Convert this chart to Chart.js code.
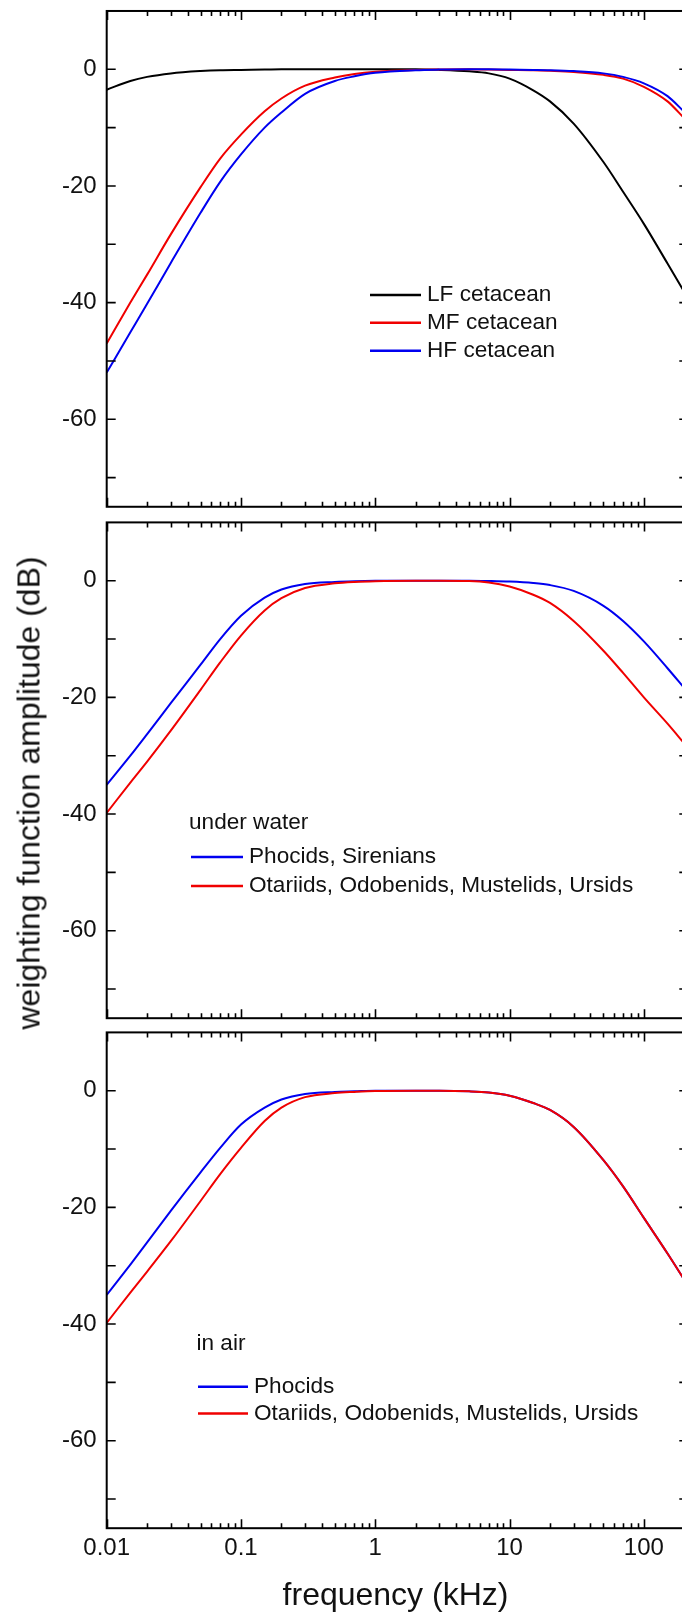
<!DOCTYPE html>
<html>
<head>
<meta charset="utf-8">
<script src="https://cdn.jsdelivr.net/npm/chart.js@4.4.1/dist/chart.umd.min.js"></script>
<style>
  html, body { margin: 0; padding: 0; background: #fff; overflow: hidden; }
  body { width: 682px; height: 1619px; position: relative; }
  canvas { position: absolute; left: 0; }
  #ytitle {
    position: absolute; left: 29px; top: 793px;
    transform: translate(-50%, -50%) rotate(-90deg);
    font: 32px "Liberation Sans", Arial, sans-serif; color: #111; white-space: nowrap;
  }
</style>
</head>
<body>
<canvas id="panelCet" width="700" height="514" style="top:0px"></canvas>
<canvas id="panelWater" width="700" height="511" style="top:514px"></canvas>
<canvas id="panelAir" width="700" height="594" style="top:1025px"></canvas>
<div id="ytitle">weighting function amplitude (dB)</div>
<script>
// frequency grid (kHz) the curves were read at
const FREQ_KHZ = [0.01, 0.015, 0.02, 0.03, 0.05, 0.07, 0.1, 0.15, 0.2, 0.3, 0.5, 0.7,
                  1, 2, 3, 5, 7, 10, 15, 20, 30, 50, 70, 100, 150, 200];

// top panel - cetaceans (dB)
const LF_CETACEAN = [-3.5, -2.0, -1.3, -0.7, -0.3, -0.15, -0.1, -0.05, 0, 0, 0, 0,
                     0, 0, -0.1, -0.35, -0.7, -1.6, -3.6, -5.5, -9.3, -15.9, -21, -26.5, -33.3, -38.2];
const MF_CETACEAN = [-47, -40, -35.2, -28.3, -20.2, -15.3, -11.2, -7.2, -5.0, -2.8, -1.4, -0.8,
                     -0.42, -0.1, -0.03, 0, -0.05, -0.1, -0.15, -0.25, -0.45, -0.95, -1.6, -3.0, -5.5, -8.4];
const HF_CETACEAN = [-52, -45.1, -40.2, -33.2, -24.6, -19.3, -14.6, -10.0, -7.4, -4.2, -2.0, -1.2,
                     -0.6, -0.15, -0.05, 0, 0, -0.05, -0.1, -0.15, -0.3, -0.7, -1.3, -2.4, -4.6, -7.3];

// middle panel - under water
const WATER_PHOCIDS = [-35, -30, -26.3, -21, -14.4, -10.0, -6.0, -2.9, -1.5, -0.55, -0.2, -0.08,
                       -0.02, 0, 0, 0, -0.05, -0.15, -0.4, -0.75, -1.75, -4.3, -6.9, -10.4, -15.0, -18.4];
const WATER_OTARIIDS = [-39.8, -34.6, -31, -25.7, -18.7, -14.0, -9.4, -5.1, -3.0, -1.25, -0.45, -0.2,
                        -0.07, 0, 0, -0.05, -0.3, -1.0, -2.4, -3.8, -6.9, -12.0, -15.8, -20.0, -24.5, -27.9];

// bottom panel - in air
const AIR_PHOCIDS = [-35, -29.8, -26, -20.6, -14.0, -9.8, -5.8, -2.9, -1.5, -0.55, -0.2, -0.1,
                     0, 0, 0, -0.1, -0.3, -0.85, -2.1, -3.3, -6.2, -11.9, -16.4, -21.8, -27.9, -32.4];
const AIR_OTARIIDS = [-39.8, -34.6, -31, -25.8, -18.9, -14.3, -9.8, -5.2, -2.9, -1.1, -0.4, -0.2,
                      -0.05, 0, 0, -0.1, -0.3, -0.85, -2.1, -3.3, -6.2, -11.9, -16.4, -21.8, -27.9, -32.4];

const CET_LABELS = ['LF cetacean', 'MF cetacean', 'HF cetacean'];
const WATER_LABELS = ['Phocids, Sirenians', 'Otariids, Odobenids, Mustelids, Ursids'];
const AIR_LABELS = ['Phocids', 'Otariids, Odobenids, Mustelids, Ursids'];

const X_TICKS = [0.01, 0.1, 1, 10, 100];
const Y_TICKS = [-70, -60, -50, -40, -30, -20, -10, 0];

const FONT = '"Liberation Sans", Arial, Helvetica, sans-serif';
const TEXT = '#111';
const RED = '#f00000';
const BLUE = '#0000f0';

// minor ticks 2..9 within each decade
const X_MINOR = [];
X_TICKS.forEach(d => { for (let m = 2; m <= 9; m++) { const v = +(d * m).toPrecision(3); if (v < 200) X_MINOR.push(v); } });

// box + inward ticks on all four sides
const frameTicks = {
    id: 'frameTicks',
    afterDraw(chart) {
        const { ctx, chartArea: a } = chart;
        const xs = chart.scales.x, ys = chart.scales.y;
        ctx.save();
        ctx.strokeStyle = '#000';
        ctx.lineWidth = 1.6;
        ctx.beginPath();
        const xt = (v, len) => {
            const px = Math.round(xs.getPixelForValue(v)) + 0.5;
            ctx.moveTo(px, a.top); ctx.lineTo(px, a.top + len);
            ctx.moveTo(px, a.bottom); ctx.lineTo(px, a.bottom - len);
        };
        X_TICKS.forEach(v => xt(v, 9));
        X_MINOR.forEach(v => xt(v, 5));
        Y_TICKS.forEach(v => {
            const py = ys.getPixelForValue(v);
            ctx.moveTo(a.left, py); ctx.lineTo(a.left + 9, py);
            ctx.moveTo(a.right, py); ctx.lineTo(a.right - 5, py);
        });
        ctx.stroke();
        ctx.lineWidth = 2;
        ctx.strokeRect(a.left, a.top, a.right - a.left, a.bottom - a.top);
        ctx.restore();
    }
};

// legend drawn inside the plot area
const panelLegend = {
    id: 'panelLegend',
    afterDatasetsDraw(chart, args, o) {
        if (!o || !o.rows) return;
        const ctx = chart.ctx;
        ctx.save();
        ctx.font = `${o.size}px ${FONT}`;
        ctx.textBaseline = 'middle';
        ctx.fillStyle = TEXT;
        if (o.heading) ctx.fillText(o.heading, o.headingX, o.headingY);
        o.rows.forEach((idx, i) => {
            const ds = chart.data.datasets[idx];
            const y = o.rowY[i];
            ctx.strokeStyle = ds.borderColor;
            ctx.lineWidth = 2.5;
            ctx.beginPath();
            ctx.moveTo(o.lineX[0], y); ctx.lineTo(o.lineX[1], y);
            ctx.stroke();
            ctx.fillStyle = TEXT;
            ctx.fillText(ds.label, o.textX, y);
        });
        ctx.restore();
    }
};

function series(label, vals, color) {
    return {
        label, borderColor: color, borderWidth: 2, pointRadius: 0, fill: false,
        cubicInterpolationMode: 'monotone',
        data: FREQ_KHZ.map((f, i) => ({ x: f, y: vals[i] }))
    };
}

// plot area: left 106.7, right 684.3 (just past the window), 10 dB = 58.33 px
const AREA_LEFT = 106.7, AREA_RIGHT = 684.3, AREA_H = 495.8;

function makePanel(id, areaTop, datasets, legend, showX) {
    const canvas = document.getElementById(id);
    const top = parseFloat(canvas.style.top);
    const want = { top: areaTop - top, bottom: areaTop - top + AREA_H };
    const padding = { left: 0, right: canvas.width - AREA_RIGHT, top: want.top,
                      bottom: showX ? 0 : canvas.height - want.bottom };
    const chart = new Chart(canvas, {
        type: 'line',
        data: { datasets },
        plugins: [frameTicks, panelLegend],
        options: {
            responsive: false, animation: false, devicePixelRatio: 1,
            layout: { autoPadding: false, padding },
            plugins: { legend: { display: false }, tooltip: { enabled: false }, panelLegend: legend },
            scales: {
                x: {
                    type: 'logarithmic', min: 0.01, max: 200, display: showX,
                    afterBuildTicks: s => { s.ticks = X_TICKS.map(v => ({ value: v, major: true })); },
                    afterFit: s => {
                        s.height = showX ? canvas.height - want.bottom : 0;
                        s.paddingLeft = 0; s.paddingRight = 0;
                    },
                    grid: { display: false, drawTicks: false }, border: { display: false },
                    ticks: { autoSkip: false, maxRotation: 0, padding: 6, color: TEXT,
                             font: { family: FONT, size: 24 }, callback: v => String(v) },
                    title: { display: true, text: 'frequency (kHz)', color: TEXT,
                             font: { family: FONT, size: 32 }, padding: { top: 0, bottom: 4 } }
                },
                y: {
                    min: -75, max: 10,
                    afterBuildTicks: s => { s.ticks = Y_TICKS.map(v => ({ value: v })); },
                    afterFit: s => { s.width = AREA_LEFT; s.paddingTop = 0; s.paddingBottom = 0; },
                    grid: { display: false, drawTicks: false }, border: { display: false },
                    ticks: { padding: 10, color: TEXT, font: { family: FONT, size: 24 },
                             callback: v => (v % 20 === 0 ? String(v) : '') }
                }
            }
        }
    });
    // nudge the layout padding until the plot box sits where the reference has it
    for (let k = 0; k < 3; k++) {
        const a = chart.chartArea;
        const dt = want.top - a.top, db = a.bottom - want.bottom;
        if (Math.abs(dt) < 0.2 && Math.abs(db) < 0.2) break;
        padding.top += dt;
        padding.bottom += db;
        chart.update('none');
    }
    return chart;
}

window.addEventListener('DOMContentLoaded', () => {
    makePanel('panelCet', 10.97, [
        series(CET_LABELS[2], HF_CETACEAN, BLUE),
        series(CET_LABELS[1], MF_CETACEAN, RED),
        series(CET_LABELS[0], LF_CETACEAN, '#000')
    ], { size: 22.6, rows: [2, 1, 0], rowY: [295, 322.7, 350.7], lineX: [370, 421], textX: 427 }, false);

    makePanel('panelWater', 522.4, [
        series(WATER_LABELS[1], WATER_OTARIIDS, RED),
        series(WATER_LABELS[0], WATER_PHOCIDS, BLUE)
    ], { size: 22.6, heading: 'under water', headingX: 189, headingY: 309,
         rows: [1, 0], rowY: [343, 372], lineX: [191, 243], textX: 249 }, false);

    makePanel('panelAir', 1032.4, [
        series(AIR_LABELS[1], AIR_OTARIIDS, RED),
        series(AIR_LABELS[0], AIR_PHOCIDS, BLUE)
    ], { size: 22.6, heading: 'in air', headingX: 196.5, headingY: 319,
         rows: [1, 0], rowY: [361.7, 388.4], lineX: [198, 248], textX: 254 }, true);
});
</script>
</body>
</html>
